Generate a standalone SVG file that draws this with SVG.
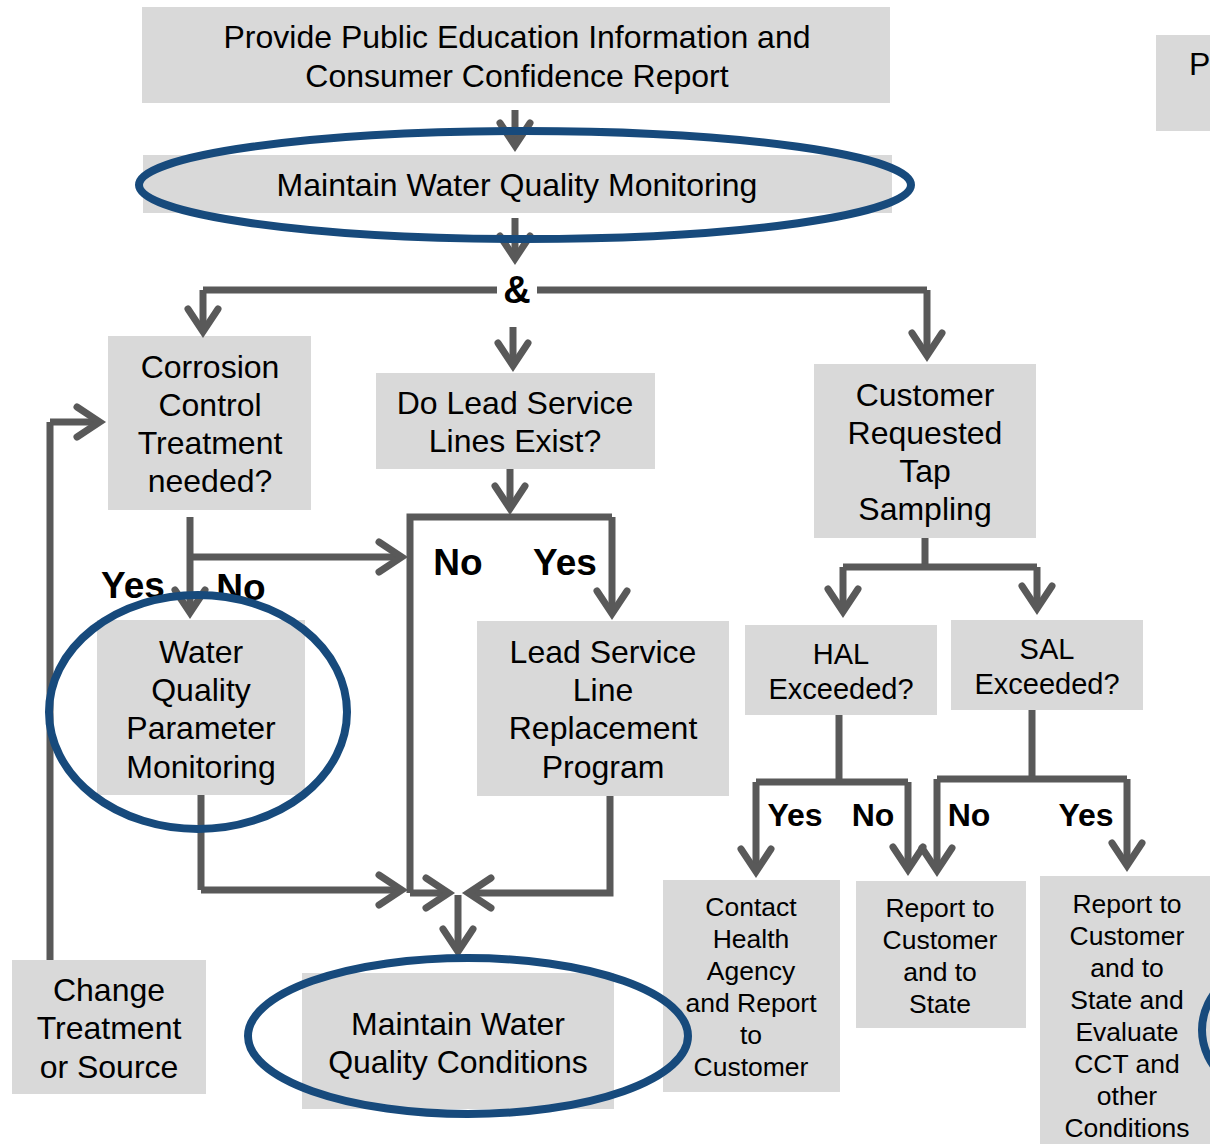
<svg xmlns="http://www.w3.org/2000/svg" width="1210" height="1144" viewBox="0 0 1210 1144">
  <style>
    .box { fill: #d9d9d9; }
    .t { font-family: "Liberation Sans", Arial, sans-serif; font-size: 32px; fill: #000; text-anchor: middle; dominant-baseline: central; }
    .ts { font-family: "Liberation Sans", Arial, sans-serif; font-size: 26.5px; fill: #000; text-anchor: middle; dominant-baseline: central; }
    .tm { font-family: "Liberation Sans", Arial, sans-serif; font-size: 29px; fill: #000; text-anchor: middle; dominant-baseline: central; }
    .lbl { font-family: "Liberation Sans", Arial, sans-serif; font-weight: bold; font-size: 37px; fill: #000; text-anchor: middle; dominant-baseline: central; }
    .lbl2 { font-family: "Liberation Sans", Arial, sans-serif; font-weight: bold; font-size: 32px; fill: #000; text-anchor: middle; dominant-baseline: central; }
    .c { fill: none; stroke: #595959; stroke-width: 7; stroke-linejoin: miter; }
    .ca { fill: none; stroke: #595959; stroke-width: 7; stroke-linejoin: miter; marker-end: url(#arr); }
    .ring { fill: none; stroke: #174a7c; stroke-width: 8; }
  </style>
  <defs>
    <marker id="arr" markerUnits="userSpaceOnUse" orient="auto" refX="0" refY="0" markerWidth="60" markerHeight="60" overflow="visible">
      <path d="M-20,-15 L2.7,0 L-20,15" fill="none" stroke="#595959" stroke-width="7" stroke-linecap="round" stroke-linejoin="miter"/>
    </marker>
  </defs>

  <rect width="1210" height="1144" fill="#fff"/>

  <!-- boxes -->
  <g id="n-education">
    <rect class="box" x="142" y="7" width="748" height="96"/>
    <text class="t" x="517" y="37">Provide Public Education Information and</text>
    <text class="t" x="517" y="76">Consumer Confidence Report</text>
  </g>
  <g id="n-partial">
    <rect class="box" x="1156" y="35" width="60" height="96"/>
    <text class="t" x="1189" y="64" style="text-anchor:start">P</text>
  </g>
  <g id="n-monitoring">
    <rect class="box" x="143" y="155" width="749" height="58"/>
    <text class="t" x="517" y="185">Maintain Water Quality Monitoring</text>
  </g>
  <g id="n-and">
    <text class="lbl" x="517" y="290" style="font-size:38px">&amp;</text>
  </g>
  <g id="n-cct">
    <rect class="box" x="108" y="336" width="203" height="174"/>
    <text class="t" x="210" y="367">Corrosion</text>
    <text class="t" x="210" y="405">Control</text>
    <text class="t" x="210" y="443">Treatment</text>
    <text class="t" x="210" y="481">needed?</text>
  </g>
  <g id="n-lsl">
    <rect class="box" x="376" y="373" width="279" height="96"/>
    <text class="t" x="515" y="403">Do Lead Service</text>
    <text class="t" x="515" y="441">Lines Exist?</text>
  </g>
  <g id="n-customer">
    <rect class="box" x="814" y="364" width="222" height="174"/>
    <text class="t" x="925" y="395">Customer</text>
    <text class="t" x="925" y="433">Requested</text>
    <text class="t" x="925" y="471">Tap</text>
    <text class="t" x="925" y="509">Sampling</text>
  </g>
  <g id="n-wqp">
    <rect class="box" x="97" y="620" width="208" height="175"/>
    <text class="t" x="201" y="652">Water</text>
    <text class="t" x="201" y="690">Quality</text>
    <text class="t" x="201" y="728">Parameter</text>
    <text class="t" x="201" y="767">Monitoring</text>
  </g>
  <g id="n-lslr">
    <rect class="box" x="477" y="621" width="252" height="175"/>
    <text class="t" x="603" y="652">Lead Service</text>
    <text class="t" x="603" y="690">Line</text>
    <text class="t" x="603" y="728">Replacement</text>
    <text class="t" x="603" y="767">Program</text>
  </g>
  <g id="n-hal">
    <rect class="box" x="745" y="625" width="192" height="90"/>
    <text class="tm" x="841" y="654">HAL</text>
    <text class="tm" x="841" y="689">Exceeded?</text>
  </g>
  <g id="n-sal">
    <rect class="box" x="951" y="620" width="192" height="90"/>
    <text class="tm" x="1047" y="649">SAL</text>
    <text class="tm" x="1047" y="684">Exceeded?</text>
  </g>
  <g id="n-contact">
    <rect class="box" x="663" y="880" width="177" height="212"/>
    <text class="ts" x="751" y="907">Contact</text>
    <text class="ts" x="751" y="939">Health</text>
    <text class="ts" x="751" y="971">Agency</text>
    <text class="ts" x="751" y="1003">and Report</text>
    <text class="ts" x="751" y="1035">to</text>
    <text class="ts" x="751" y="1067">Customer</text>
  </g>
  <g id="n-report">
    <rect class="box" x="856" y="881" width="170" height="147"/>
    <text class="ts" x="940" y="908">Report to</text>
    <text class="ts" x="940" y="940">Customer</text>
    <text class="ts" x="940" y="972">and to</text>
    <text class="ts" x="940" y="1004">State</text>
  </g>
  <g id="n-evaluate">
    <rect class="box" x="1040" y="876" width="175" height="275"/>
    <text class="ts" x="1127" y="904">Report to</text>
    <text class="ts" x="1127" y="936">Customer</text>
    <text class="ts" x="1127" y="968">and to</text>
    <text class="ts" x="1127" y="1000">State and</text>
    <text class="ts" x="1127" y="1032">Evaluate</text>
    <text class="ts" x="1127" y="1064">CCT and</text>
    <text class="ts" x="1127" y="1096">other</text>
    <text class="ts" x="1127" y="1128">Conditions</text>
  </g>
  <g id="n-change">
    <rect class="box" x="12" y="960" width="194" height="134"/>
    <text class="t" x="109" y="990">Change</text>
    <text class="t" x="109" y="1028">Treatment</text>
    <text class="t" x="109" y="1067">or Source</text>
  </g>
  <g id="n-conditions">
    <rect class="box" x="302" y="973" width="312" height="136"/>
    <text class="t" x="458" y="1024">Maintain Water</text>
    <text class="t" x="458" y="1062">Quality Conditions</text>
  </g>

  <!-- connectors -->
  <g id="connectors">
    <path class="ca" d="M515,110 V143"/>
    <path class="ca" d="M515,218 V256"/>
    <path class="c" d="M497,290 H203"/>
    <path class="ca" d="M203,290 V329"/>
    <path class="c" d="M537,290 H927"/>
    <path class="ca" d="M927,290 V353"/>
    <path class="ca" d="M513,327 V363"/>

    <path class="ca" d="M190,517 V610"/>
    <path class="ca" d="M190,557 H399"/>

    <path class="ca" d="M510,469 V506"/>
    <path class="c" d="M410,893 V517 H612"/>
    <path class="ca" d="M612,517 V611"/>

    <path class="c" d="M201,795 V890"/>
    <path class="ca" d="M201,890 H399"/>
    <path class="ca" d="M410,893 H446"/>
    <path class="ca" d="M610,796 V893 H471"/>
    <path class="ca" d="M458,895 V949"/>

    <path class="c" d="M50,960 V422"/>
    <path class="ca" d="M50,422 H97"/>

    <path class="c" d="M925,538 V567"/>
    <path class="c" d="M843,567 H1037"/>
    <path class="ca" d="M843,567 V609"/>
    <path class="ca" d="M1037,567 V606"/>

    <path class="c" d="M839,715 V782"/>
    <path class="c" d="M756,782 H908"/>
    <path class="ca" d="M756,782 V869"/>
    <path class="ca" d="M908,782 V867"/>

    <path class="c" d="M1032,710 V779"/>
    <path class="c" d="M937,779 H1127"/>
    <path class="ca" d="M937,779 V868"/>
    <path class="ca" d="M1127,779 V863"/>
  </g>

  <!-- branch labels -->
  <g id="labels">
    <text class="lbl" x="133" y="585">Yes</text>
    <text class="lbl" x="241" y="587">No</text>
    <text class="lbl" x="458" y="562">No</text>
    <text class="lbl" x="565" y="562">Yes</text>
    <text class="lbl2" x="795" y="815">Yes</text>
    <text class="lbl2" x="873" y="815">No</text>
    <text class="lbl2" x="969" y="815">No</text>
    <text class="lbl2" x="1086" y="815">Yes</text>
  </g>

  <!-- highlight rings -->
  <g id="rings">
    <ellipse class="ring" cx="525" cy="185" rx="386" ry="54"/>
    <ellipse class="ring" cx="198" cy="712" rx="149" ry="117"/>
    <ellipse class="ring" cx="468" cy="1036" rx="220" ry="78"/>
    <ellipse class="ring" cx="1290" cy="1030" rx="88" ry="72"/>
  </g>
</svg>
